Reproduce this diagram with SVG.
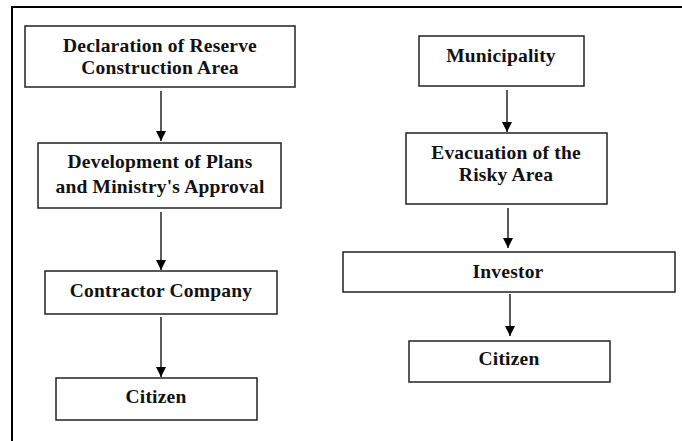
<svg xmlns="http://www.w3.org/2000/svg" width="682" height="441" viewBox="0 0 682 441">
<defs>
<style>
.box{fill:#fff;stroke:#222;stroke-width:1.5}
.t{font-family:"Liberation Serif","Times New Roman",serif;font-weight:bold;font-size:19.5px;letter-spacing:0.2px;fill:#111;text-anchor:middle}
.c{stroke:#000;stroke-width:1.3;fill:none}
</style>
<marker id="ah" viewBox="0 0 10 10" refX="10" refY="5" markerWidth="10" markerHeight="10" markerUnits="userSpaceOnUse" orient="auto">
<path d="M0,0 L10,5 L0,10 Z" fill="#000"/>
</marker>
</defs>
<rect width="682" height="441" fill="#fff"/>
<path d="M12,441 V7 H682" fill="none" stroke="#000" stroke-width="2"/>
<g id="n1"><rect class="box" x="25" y="26" width="270" height="61"/><text class="t" x="160" y="52">Declaration of Reserve</text><text class="t" x="160" y="74">Construction Area</text></g>
<g id="n2"><rect class="box" x="38" y="143" width="243" height="65"/><text class="t" x="160" y="168">Development of Plans</text><text class="t" x="160" y="193">and Ministry's Approval</text></g>
<g id="n3"><rect class="box" x="45" y="271" width="232" height="43"/><text class="t" x="161" y="297">Contractor Company</text></g>
<g id="n4"><rect class="box" x="56" y="378" width="201" height="42"/><text class="t" x="156" y="403">Citizen</text></g>
<g id="n5"><rect class="box" x="419" y="36" width="165" height="50"/><text class="t" x="501" y="62">Municipality</text></g>
<g id="n6"><rect class="box" x="406" y="133" width="201" height="71"/><text class="t" x="506" y="159">Evacuation of the</text><text class="t" x="506" y="181">Risky Area</text></g>
<g id="n7"><rect class="box" x="343" y="252" width="332" height="40"/><text class="t" x="508" y="278">Investor</text></g>
<g id="n8"><rect class="box" x="409" y="341" width="201" height="41"/><text class="t" x="509" y="365">Citizen</text></g>
<g id="connectors">
<line class="c" x1="161" y1="91" x2="161" y2="141" marker-end="url(#ah)"/>
<line class="c" x1="161" y1="212" x2="161" y2="270" marker-end="url(#ah)"/>
<line class="c" x1="161" y1="317" x2="161" y2="377" marker-end="url(#ah)"/>
<line class="c" x1="507" y1="90" x2="507" y2="132" marker-end="url(#ah)"/>
<line class="c" x1="508" y1="208" x2="508" y2="248" marker-end="url(#ah)"/>
<line class="c" x1="510" y1="294" x2="510" y2="336" marker-end="url(#ah)"/>
</g>
</svg>
